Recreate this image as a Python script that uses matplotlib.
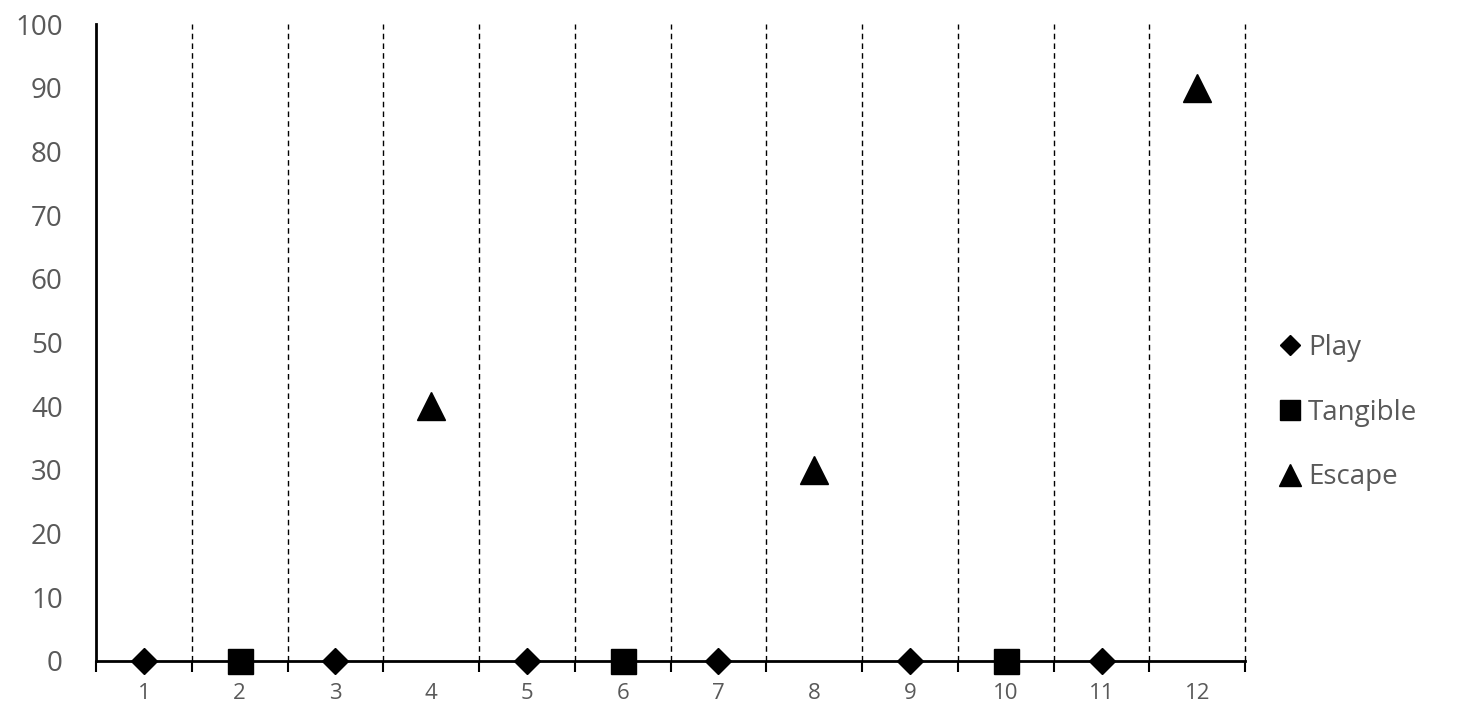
import numpy as np
import matplotlib.pyplot as plt

# 数据
play_x = [1, 3, 5, 7, 9, 11]
play_y = [0, 0, 0, 0, 0, 0]
tangible_x = [2, 6, 10]
tangible_y = [0, 0, 0]
escape_x = [4, 8, 12]
escape_y = [40, 30, 90]
categories = [str(i) for i in range(1, 13)]

plt.rcParams['font.family'] = ['Open Sans', 'DejaVu Sans']
gray = '#595959'

fig = plt.figure(figsize=(14.62, 7.22), dpi=100)
ax = fig.add_axes([0.0657, 0.0845, 0.786, 0.882])

# 分隔虚线
bounds = np.arange(1.5, 13.0, 1.0)
ax.vlines(bounds, 0, 100, colors='black', linestyles=(0, (4, 3)), linewidth=1.0,
          zorder=1, clip_on=False)

# 散点
ax.plot(play_x, play_y, 'D', color='black', markersize=13, linestyle='none', label='Play', zorder=3, clip_on=False)
ax.plot(tangible_x, tangible_y, 's', color='black', markersize=18, linestyle='none', label='Tangible', zorder=3, clip_on=False)
ax.plot(escape_x, escape_y, '^', color='black', markersize=20, linestyle='none', label='Escape', zorder=3, clip_on=False)

ax.set_xlim(0.5, 12.5)
ax.set_ylim(0, 100)
ax.set_yticks(np.arange(0, 101, 10))

# x轴刻度：边界画刻度线，中间放标签
ax.set_xticks(np.arange(0.5, 13.0, 1.0))
ax.set_xticklabels([])
ax.set_xticks(np.arange(1, 13), minor=True)
ax.set_xticklabels(categories, minor=True)
ax.tick_params(axis='x', which='major', direction='out', length=8, width=1.5, color='black')
ax.tick_params(axis='x', which='minor', length=0, pad=16, labelsize=16, labelcolor=gray)
ax.tick_params(axis='y', length=0, pad=24, labelsize=20, labelcolor=gray)

for s in ['top', 'right']:
    ax.spines[s].set_visible(False)
ax.spines['left'].set_linewidth(2)
ax.spines['bottom'].set_linewidth(2)

ax.legend(loc='center left', bbox_to_anchor=(1.01, 0.39), frameon=False,
          fontsize=20, labelcolor=gray, markerscale=0.8, handlelength=0.6,
          handletextpad=0.35, labelspacing=1.32)

fig.savefig('out.png', dpi=100)
